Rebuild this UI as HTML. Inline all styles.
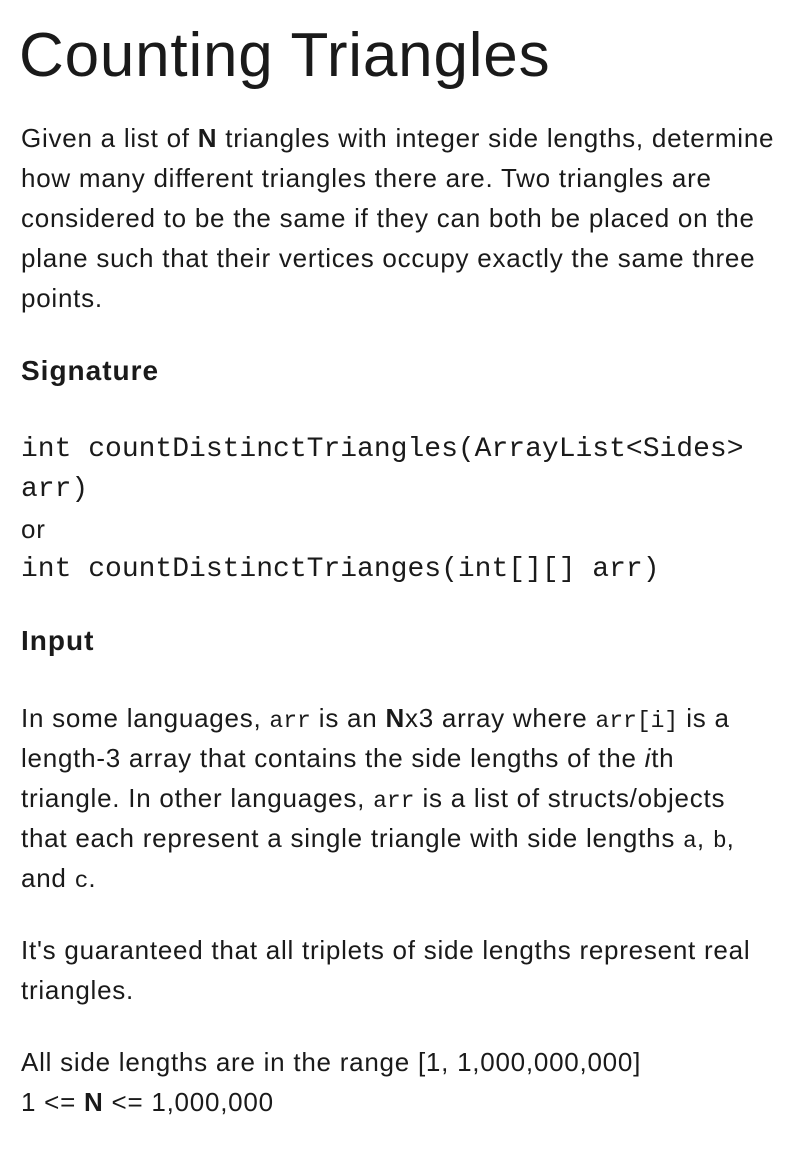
<!DOCTYPE html>
<html><head><meta charset="utf-8"><style>
body{margin:0;width:800px;height:1150px;background:#fff;color:#1a1a1a;font-family:"Liberation Sans",Arial,sans-serif;position:relative;overflow:hidden}
.l{position:absolute;left:21px;white-space:nowrap;font-size:26px;letter-spacing:0.75px;line-height:40px}
.t{position:absolute;left:19px;top:18px;font-size:62px;letter-spacing:0.8px;line-height:76px;white-space:nowrap}
.h{position:absolute;left:21px;font-size:28px;letter-spacing:1px;font-weight:bold;line-height:40px}
.c{position:absolute;left:21px;font-family:"Liberation Mono",monospace;font-size:28px;line-height:40px;white-space:nowrap}
code{font-family:"Liberation Mono",monospace;font-size:23px;letter-spacing:0}
</style></head><body>
<div class="t">Counting Triangles</div>
<div class="l" style="top:118px">Given a list of <b>N</b> triangles with integer side lengths, determine</div>
<div class="l" style="top:158px">how many different triangles there are. Two triangles are</div>
<div class="l" style="top:198px">considered to be the same if they can both be placed on the</div>
<div class="l" style="top:238px">plane such that their vertices occupy exactly the same three</div>
<div class="l" style="top:278px">points.</div>
<div class="h" style="top:351px">Signature</div>
<div class="c" style="top:430px">int countDistinctTriangles(ArrayList&lt;Sides&gt;</div>
<div class="c" style="top:470px">arr)</div>
<div class="l" style="top:509px">or</div>
<div class="c" style="top:550px">int countDistinctTrianges(int[][] arr)</div>
<div class="h" style="top:621px">Input</div>
<div class="l" style="top:698px">In some languages, <code>arr</code> is an <b>N</b>x3 array where <code>arr[i]</code> is a</div>
<div class="l" style="top:738px">length-3 array that contains the side lengths of the <i>i</i>th</div>
<div class="l" style="top:778px">triangle. In other languages, <code>arr</code> is a list of structs/objects</div>
<div class="l" style="top:818px">that each represent a single triangle with side lengths <code>a</code>, <code>b</code>,</div>
<div class="l" style="top:858px">and <code>c</code>.</div>
<div class="l" style="top:930px">It's guaranteed that all triplets of side lengths represent real</div>
<div class="l" style="top:970px">triangles.</div>
<div class="l" style="top:1042px">All side lengths are in the range [1, 1,000,000,000]</div>
<div class="l" style="top:1082px">1 &lt;= <b>N</b> &lt;= 1,000,000</div>
</body></html>
